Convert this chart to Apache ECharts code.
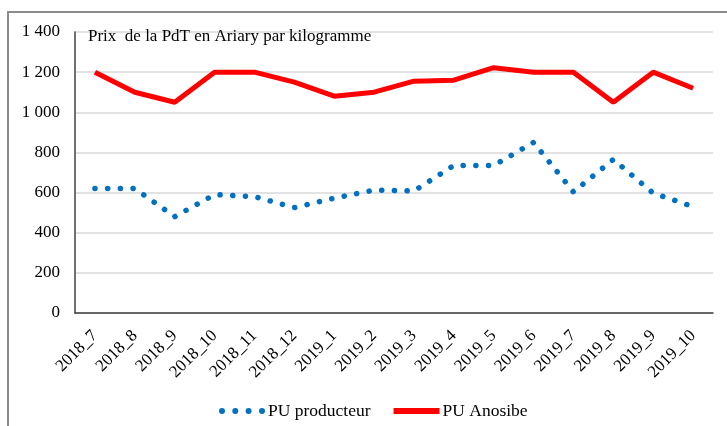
<!DOCTYPE html>
<html>
<head>
<meta charset="utf-8">
<script src="https://cdn.jsdelivr.net/npm/echarts@6/dist/echarts.min.js"></script>
<style>
  html, body { margin: 0; padding: 0; background: #fff; }
  #chart { width: 727px; height: 426px; }
</style>
</head>
<body>
<div id="chart"></div>
<script>
// mois
const months = ['2018_7', '2018_8', '2018_9', '2018_10', '2018_11', '2018_12',
  '2019_1', '2019_2', '2019_3', '2019_4', '2019_5', '2019_6',
  '2019_7', '2019_8', '2019_9', '2019_10']
// prix producteur
const puProducteur = [620, 620, 480, 590, 580, 525, 572, 612, 608, 735, 735, 850, 603, 765, 597, 530]
// prix Anosibe
const puAnosibe = [1200, 1100, 1050, 1200, 1200, 1150, 1080, 1100, 1155, 1160, 1222, 1200, 1200, 1050, 1200, 1120]

const serif = '"Liberation Serif", "DejaVu Serif", serif'

// 1400 -> "1 400"
function fmt(v) {
  if (v < 1000) return String(v)
  return Math.floor(v / 1000) + ' ' + String(v % 1000).padStart(3, '0')
}

// icones de la legende : 4 points bleus / trait rouge
const dotsIcon = 'path://M0,3a3,3 0 1,0 6,0a3,3 0 1,0 -6,0Z' +
  'M13.3,3a3,3 0 1,0 6,0a3,3 0 1,0 -6,0Z' +
  'M26.6,3a3,3 0 1,0 6,0a3,3 0 1,0 -6,0Z' +
  'M40,3a3,3 0 1,0 6,0a3,3 0 1,0 -6,0Z'
const lineIcon = 'path://M0,0L46,0L46,6L0,6Z'

const chart = echarts.init(document.getElementById('chart'))

const option = {
  backgroundColor: '#fff',
  animation: false,
  graphic: [
    {
      type: 'rect',
      shape: { x: 8, y: 12, width: 760, height: 460 },
      style: { fill: 'none', stroke: '#8c8c8c', lineWidth: 2 },
      silent: true
    }
  ],
  title: {
    text: 'Prix  de la PdT en Ariary par kilogramme',
    left: 88,
    top: 28,
    padding: 0,
    textStyle: {
      fontFamily: serif,
      fontSize: 17,
      fontWeight: 'normal',
      color: '#000'
    }
  },
  legend: {
    left: 214,
    top: 397,
    itemWidth: 46,
    itemHeight: 6,
    itemGap: 23,
    itemStyle: { borderWidth: 0 },
    textStyle: { fontFamily: serif, fontSize: 17.5, color: '#000', padding: [0, 0, 0, -2] },
    data: [
      { name: 'PU producteur', icon: dotsIcon },
      { name: 'PU Anosibe', icon: lineIcon }
    ]
  },
  grid: {
    left: 75,
    right: 14,
    top: 32,
    bottom: 113
  },
  xAxis: {
    type: 'category',
    data: months,
    boundaryGap: true,
    axisTick: { show: false },
    axisLine: { lineStyle: { color: '#404040', width: 1.5 } },
    axisLabel: {
      interval: 0,
      rotate: 45,
      margin: 20,
      fontFamily: serif,
      fontSize: 17,
      color: '#000'
    }
  },
  yAxis: {
    type: 'value',
    min: 0,
    max: 1400,
    interval: 200,
    axisLine: { show: true, lineStyle: { color: '#404040', width: 1.5 } },
    axisTick: { show: false },
    splitLine: { lineStyle: { color: '#d9d9d9', width: 1.5 } },
    axisLabel: {
      formatter: fmt,
      margin: 15,
      fontFamily: serif,
      fontSize: 17,
      color: '#000'
    }
  },
  series: [
    {
      name: 'PU producteur',
      type: 'line',
      data: puProducteur,
      symbol: 'none',
      lineStyle: {
        color: '#0070c0',
        width: 5.5,
        type: [0.1, 12.6],
        cap: 'round'
      },
      itemStyle: { color: '#0070c0' }
    },
    {
      name: 'PU Anosibe',
      type: 'line',
      data: puAnosibe,
      symbol: 'none',
      lineStyle: { color: '#ff0000', width: 5 },
      itemStyle: { color: '#ff0000' }
    }
  ]
}

chart.setOption(option)
</script>
</body>
</html>
